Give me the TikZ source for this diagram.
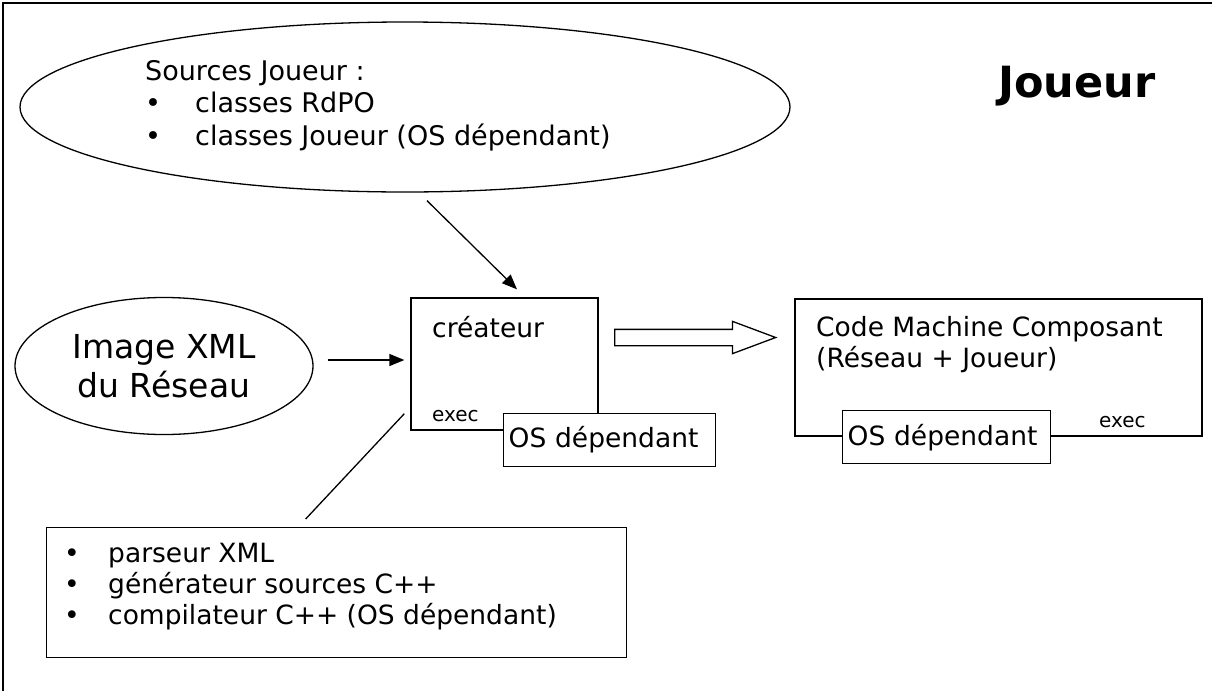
\documentclass[tikz,border=0pt]{standalone}
\usepackage{fontspec}
\setmainfont{DejaVu Sans}
\usetikzlibrary{shapes, arrows.meta, positioning, calc}

\newcommand{\puce}[1][50pt]{\makebox[#1][l]{•}}

\begin{document}
\begin{tikzpicture}[x=1pt, y=-1pt,
		% boites et bulles
		block/.style = {draw, rectangle, line width=1.3pt, inner sep=0pt},
		bulle/.style = {draw, ellipse, line width=1.3pt, inner sep=0pt},
		osbox/.style = {block, fill=white, anchor=north west, minimum height=53, inner xsep=5pt, text width=202, align=left, font=\fontsize{26.5}{30}\selectfont},
		txt/.style = {inner sep=0pt, align=left, anchor=north west, font=\fontsize{26.5}{31}\selectfont},
		petit/.style = {inner sep=0pt, anchor=base west, font=\fontsize{20}{22}\selectfont},
		>={Triangle[length=15pt, width=12pt]}
		]
		\useasboundingbox (0,0) rectangle (1212,691);
		
		% --- cadre ---
		\draw[line width=1.6pt] (3,691) -- (3,3) -- (1212,3);
		
		% --- sources du joueur ---
		\node [bulle, minimum width=770, minimum height=170] at (405,107) (sources) {};
		\node [txt, font=\fontsize{27}{32.5}\selectfont] at (145,60) (sourcestxt) {Sources Joueur :\\ \puce classes RdPO\\ \puce classes Joueur (OS dépendant)};
		\node [inner sep=0pt, anchor=base west, font=\bfseries\fontsize{43}{50}\selectfont] at (998,97) (titre) {Joueur};
		
		% --- createur ---
		\node [block, minimum width=187, minimum height=132] at (504.5,364) (createur) {};
		\node [txt] at (432,316) (createurtxt) {créateur};
		\node [petit] at (432,421) (exec1) {exec};
		\node [osbox] at (503,413) (os1) {OS dépendant};
		
		% --- image XML ---
		\node [bulle, minimum width=298, minimum height=137, align=center, font=\fontsize{33}{39}\selectfont] at (164,366) (image) {Image XML\\du Réseau};
		
		% --- code machine ---
		\node [block, minimum width=407, minimum height=137] at (998.5,367.5) (code) {};
		\node [txt] at (816,316) (codetxt) {Code Machine Composant\\(Réseau + Joueur)};
		\node [petit] at (1099,427) (exec2) {exec};
		\node [osbox, text width=198] at (842,410) (os2) {OS dépendant};
		
		% --- outils ---
		\node [block, anchor=north west, minimum width=580, minimum height=130] at (46,527) (outils) {};
		\node [txt] at (64,543) (outilstxt) {\puce[44pt]parseur XML\\ \puce[44pt]générateur sources C++\\ \puce[44pt]compilateur C++ (OS dépendant)};
		
		% --- liaisons ---
		\draw [->, line width=1.3pt] ($(sources.south)+(22,8)$) -- ($(createur.north)+(12.5,-8)$);
		\draw [->, line width=1.3pt] ($(image.east)+(14,-6)$) -- ($(createur.west)+(-6,-4)$);
		\draw [line width=1.3pt] ($(outils.north)+(-31,-8)$) -- ($(createur.south west)+(-6,-17)$);
		\node [single arrow, draw, anchor=tail, line width=1.3pt, minimum height=161, single arrow head extend=8, single arrow tip angle=41, single arrow head indent=0, inner xsep=0pt, inner ysep=7.5pt] at (614,337.5) (fleche) {};
		
	\end{tikzpicture}
\end{document}
